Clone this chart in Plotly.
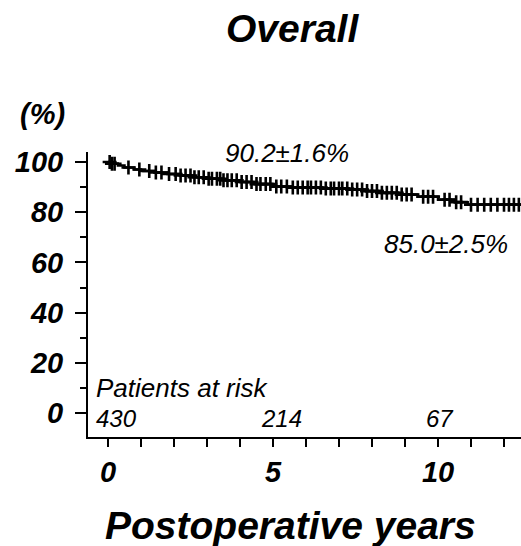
import numpy as np
import plotly.graph_objects as go

# Kaplan-Meier estimate, overall cohort (step points: years, survival %)
event_years = [0.0, 0.1, 0.3, 0.5, 0.8, 1.0, 1.4, 1.8, 2.2, 2.6, 3.0, 3.5, 4.0, 4.5,
               5.0, 5.6, 6.5, 7.3, 7.8, 8.3, 8.8, 9.4, 10.0, 10.5, 10.9, 12.5]
survival_pct = [100.0, 99.3, 98.6, 97.8, 97.0, 96.4, 95.8, 95.2, 94.6, 93.9, 93.3, 92.7, 92.0, 91.2,
                90.2, 89.8, 89.4, 89.0, 88.4, 87.7, 87.0, 86.2, 85.0, 84.0, 83.0, 83.0]

# Censored observations (years)
censor_years = [0.05, 0.12, 0.2, 0.62, 0.95, 1.25, 1.45, 1.62, 1.85, 2.05, 2.2, 2.35, 2.5,
                2.62, 2.75, 2.9, 3.05, 3.15, 3.3, 3.4, 3.5, 3.62, 3.75, 3.9, 4.05, 4.2, 4.35,
                4.5, 4.62, 4.78, 4.92, 5.1, 5.25, 5.42, 5.6, 5.75, 5.9, 6.05, 6.15, 6.3, 6.45,
                6.6, 6.75, 6.85, 7.0, 7.1, 7.25, 7.4, 7.55, 7.7, 7.85, 8.0, 8.15, 8.3, 8.45,
                8.6, 8.75, 8.9, 9.05, 9.2, 9.55, 9.7, 9.85, 10.2, 10.35, 10.55, 10.7, 11.0,
                11.2, 11.4, 11.6, 11.8, 12.0, 12.15, 12.3, 12.45]

# Survival labels at 5 and 10 years
label_years = [5, 10]
label_text = ["90.2\u00b11.6%", "85.0\u00b12.5%"]

# Numbers at risk
risk_years = [0, 5, 10]
risk_counts = [430, 214, 67]

FONT = "Arial, 'Liberation Sans', sans-serif"

# survival level at each censoring time
idx = np.searchsorted(np.array(event_years), np.array(censor_years), side="right") - 1
censor_pct = [survival_pct[i] for i in idx]

fig = go.Figure()
fig.add_trace(go.Scatter(
    x=event_years, y=survival_pct, mode="lines",
    line=dict(color="black", width=2.5, shape="hv"),
    hoverinfo="skip", showlegend=False,
))
fig.add_trace(go.Scatter(
    x=censor_years, y=censor_pct, mode="markers",
    marker=dict(symbol="cross-thin", size=10, line=dict(color="black", width=2.6)),
    hoverinfo="skip", showlegend=False,
))

annotations = []
# survival estimates
annotations.append(dict(x=label_years[0], y=103.4, xref="x", yref="y", text=label_text[0],
                        showarrow=False, xanchor="center", yanchor="middle", xshift=14,
                        font=dict(family=FONT, size=26, style="italic", color="black")))
annotations.append(dict(x=label_years[1], y=67.5, xref="x", yref="y", text=label_text[1],
                        showarrow=False, xanchor="center", yanchor="middle", xshift=8,
                        font=dict(family=FONT, size=26, style="italic", color="black")))
# patients at risk
annotations.append(dict(x=0, y=10, xref="x", yref="y", text="Patients at risk",
                        showarrow=False, xanchor="left", yanchor="middle", xshift=-14,
                        font=dict(family=FONT, size=26, style="italic", color="black")))
for yr, n in zip(risk_years, risk_counts):
    annotations.append(dict(x=yr, y=-2, xref="x", yref="y", text=str(n),
                            showarrow=False, xanchor="left", yanchor="middle", xshift=-14,
                            font=dict(family=FONT, size=24, style="italic", color="black")))
# titles
annotations.append(dict(x=0.473, y=1.435, xref="paper", yref="paper", text="Overall",
                        showarrow=False, xanchor="center", yanchor="middle",
                        font=dict(family=FONT, size=39, weight="bold", style="italic", color="black")))
annotations.append(dict(x=-0.106, y=1.133, xref="paper", yref="paper", text="(%)",
                        showarrow=False, xanchor="center", yanchor="middle",
                        font=dict(family=FONT, size=29, weight="bold", style="italic", color="black")))
annotations.append(dict(x=0.467, y=-0.309, xref="paper", yref="paper", text="Postoperative years",
                        showarrow=False, xanchor="center", yanchor="middle",
                        font=dict(family=FONT, size=39, weight="bold", style="italic", color="black")))

fig.update_layout(
    width=521, height=546,
    margin=dict(l=88, r=0, t=152, b=109),
    paper_bgcolor="white", plot_bgcolor="white",
    annotations=annotations,
    xaxis=dict(
        range=[-0.606, 12.515], tickmode="array", tickvals=[0, 5, 10],
        ticks="outside", ticklen=8, tickwidth=2, tickcolor="black",
        minor=dict(dtick=1, tick0=0, ticks="outside", ticklen=8, tickwidth=2, tickcolor="black"),
        showline=True, linecolor="black", linewidth=2,
        showgrid=False, zeroline=False,
        tickfont=dict(family=FONT, size=29, weight="bold", style="italic", color="black"),
    ),
    yaxis=dict(
        range=[-9.56, 103.98], tickmode="array", tickvals=[0, 20, 40, 60, 80, 100],
        ticks="outside", ticklen=11, tickwidth=2, tickcolor="black",
        minor=dict(dtick=10, tick0=0, ticks="outside", ticklen=6, tickwidth=2, tickcolor="black"),
        showline=True, linecolor="black", linewidth=2,
        showgrid=False, zeroline=False, ticklabelstandoff=6,
        tickfont=dict(family=FONT, size=29, weight="bold", style="italic", color="black"),
    ),
)

fig.write_html("out.html")
